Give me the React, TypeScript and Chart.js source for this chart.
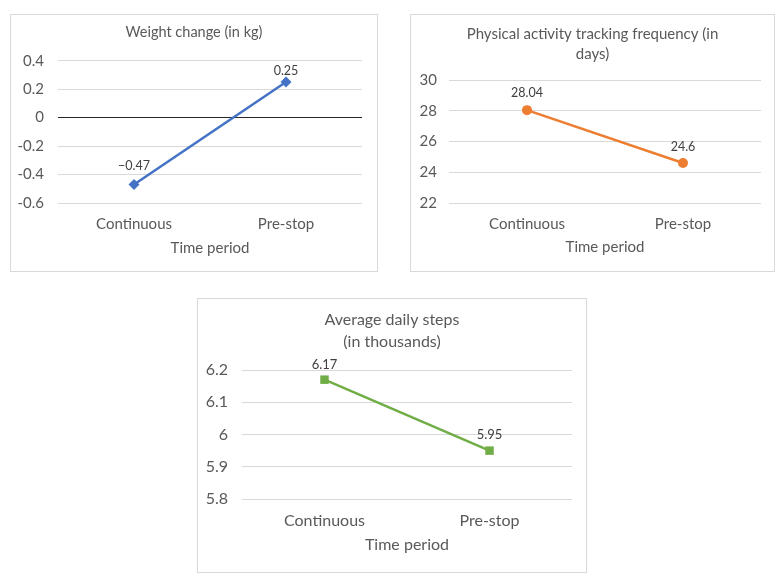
import React, { useEffect, useRef } from "react";
import { Chart, registerables } from "chart.js";

Chart.register(...registerables);

// ---------- data ----------
const categories = ["Continuous", "Pre-stop"];
const xAxisTitle = "Time period";

const weightTitle = ["Weight change (in kg)"];
const weightValues = [-0.47, 0.25];
const weightTicks = [-0.6, -0.4, -0.2, 0, 0.2, 0.4];

const activityTitle = ["Physical activity tracking frequency (in", "days)"];
const activityValues = [28.04, 24.6];
const activityTicks = [22, 24, 26, 28, 30];

const stepsTitle = ["Average daily steps", "(in thousands)"];
const stepsValues = [6.17, 5.95];
const stepsTicks = [5.8, 5.9, 6.0, 6.1, 6.2];

const FONT = "Lato, 'Open Sans', sans-serif";
const TEXT = "#595959";
const GRID = "#d9d9d9";

const pointLabelPlugin = {
  id: "pointLabels",
  afterDatasetsDraw(chart: any, _args: any, opts: any) {
    const { ctx } = chart;
    const meta = chart.getDatasetMeta(0);
    const ds = chart.data.datasets[0];
    ctx.save();
    ctx.font = `${opts.size || 12}px ${FONT}`;
    ctx.fillStyle = "#404040";
    ctx.textAlign = "center";
    ctx.textBaseline = "middle";
    meta.data.forEach((pt: any, i: number) => {
      const v = ds.data[i] as number;
      const text = String(v).replace("-", "\u2212");
      const off = (opts.offsets && opts.offsets[i]) ?? 16;
      ctx.fillText(text, pt.x, pt.y - off);
    });
    ctx.restore();
  },
};

type Spec = {
  left: number;
  top: number;
  width: number;
  height: number;
  title: string[];
  values: number[];
  ticks: number[];
  color: string;
  pointStyle: string;
  pointRadius: number;
  plotLeft: number;
  plotRightPad: number;
  titleSize: number;
  titleLineHeight: number;
  titlePadTop: number;
  titlePadBottom: number;
  xHeight: number;
  tickSize: number;
  yTickPad: number;
  xTickPad: number;
  xTitlePadBottom: number;
  zeroLine?: boolean;
  labelOffsets: number[];
  labelSize: number;
};

function Panel({ spec }: { spec: Spec }) {
  const ref = useRef<HTMLCanvasElement | null>(null);
  useEffect(() => {
    if (!ref.current) return;
    const s = spec;
    const min = s.ticks[0];
    const max = s.ticks[s.ticks.length - 1];
    const step = +(s.ticks[1] - s.ticks[0]).toFixed(6);
    const chart = new Chart(ref.current, {
      type: "line",
      data: {
        labels: categories,
        datasets: [
          {
            data: s.values,
            borderColor: s.color,
            backgroundColor: s.color,
            borderWidth: 2.5,
            pointStyle: s.pointStyle as any,
            pointRadius: s.pointRadius,
            pointBorderWidth: 0,
            tension: 0,
            yAxisID: "y",
          },
        ],
      },
      options: {
        responsive: false,
        animation: false,
        layout: { padding: 0 },
        plugins: {
          legend: { display: false },
          tooltip: { enabled: false },
          title: {
            display: true,
            text: s.title,
            color: TEXT,
            font: { family: FONT, size: s.titleSize, weight: "normal", lineHeight: s.titleLineHeight },
            padding: { top: s.titlePadTop, bottom: s.titlePadBottom },
          },
          pointLabels: { offsets: s.labelOffsets, size: s.labelSize },
        } as any,
        scales: {
          x: {
            offset: true,
            grid: { display: false, drawTicks: false },
            border: { display: false },
            ticks: {
              color: TEXT,
              font: { family: FONT, size: s.tickSize, lineHeight: 1.2 },
              padding: s.xTickPad,
              maxRotation: 0,
            },
            title: {
              display: true,
              text: xAxisTitle,
              color: TEXT,
              font: { family: FONT, size: s.tickSize, lineHeight: 1.2 },
              padding: { top: 0, bottom: s.xTitlePadBottom },
            },
            afterFit: (scale: any) => {
              scale.height = s.xHeight;
            },
          },
          y: {
            min,
            max,
            grid: {
              drawTicks: false,
              color: (ctx: any) =>
                s.zeroLine && ctx.tick && Math.abs(ctx.tick.value) < 1e-9 ? "#262626" : GRID,
              lineWidth: 1,
            },
            border: { display: false },
            ticks: {
              stepSize: step,
              color: TEXT,
              font: { family: FONT, size: s.tickSize },
              padding: s.yTickPad,
              callback: (v: any) => String(+Number(v).toFixed(4)),
            },
            afterFit: (scale: any) => {
              scale.width = s.plotLeft;
            },
          },
          yRightSpace: {
            type: "linear",
            position: "right",
            display: true,
            grid: { display: false, drawTicks: false },
            border: { display: false },
            ticks: { display: false },
            afterFit: (scale: any) => {
              scale.width = s.plotRightPad;
            },
          },
        },
      },
      plugins: [pointLabelPlugin],
    } as any);
    return () => chart.destroy();
  }, [spec]);

  return (
    <div
      style={{
        position: "absolute",
        left: spec.left,
        top: spec.top,
        width: spec.width,
        height: spec.height,
        border: `1px solid ${GRID}`,
        boxSizing: "border-box",
        background: "#fff",
      }}
    >
      <canvas
        ref={ref}
        width={spec.width}
        height={spec.height}
        style={{ position: "absolute", left: -1, top: -1, width: spec.width, height: spec.height }}
      />
    </div>
  );
}

const specs: Spec[] = [
  {
    left: 10, top: 14, width: 368, height: 258,
    title: weightTitle, values: weightValues, ticks: weightTicks,
    color: "#4472C4", pointStyle: "rectRot", pointRadius: 5.5,
    plotLeft: 48, plotRightPad: 16,
    titleSize: 14.5, titleLineHeight: 1.5, titlePadTop: 7.5, titlePadBottom: 17.5,
    xHeight: 69, tickSize: 15, yTickPad: 14, xTickPad: 12, xTitlePadBottom: 15,
    zeroLine: true, labelOffsets: [19, 11], labelSize: 12.5,
  },
  {
    left: 410, top: 14, width: 365, height: 258,
    title: activityTitle, values: activityValues, ticks: activityTicks,
    color: "#ED7D31", pointStyle: "circle", pointRadius: 5,
    plotLeft: 39, plotRightPad: 14,
    titleSize: 15, titleLineHeight: 20 / 15, titlePadTop: 10, titlePadBottom: 16,
    xHeight: 69, tickSize: 15, yTickPad: 12, xTickPad: 12, xTitlePadBottom: 16,
    labelOffsets: [17, 16], labelSize: 12.5,
  },
  {
    left: 197, top: 298, width: 390, height: 275,
    title: stepsTitle, values: stepsValues, ticks: stepsTicks,
    color: "#70AD47", pointStyle: "rect", pointRadius: 6,
    plotLeft: 45, plotRightPad: 15,
    titleSize: 16, titleLineHeight: 22 / 16, titlePadTop: 11, titlePadBottom: 17,
    xHeight: 74, tickSize: 16, yTickPad: 14, xTickPad: 12.4, xTitlePadBottom: 18.4,
    labelOffsets: [15, 16], labelSize: 13,
  },
];

export default function App() {
  return (
    <div
      style={{
        position: "absolute",
        left: 0,
        top: 0,
        width: 782,
        height: 582,
        background: "#fff",
        overflow: "hidden",
      }}
    >
      {specs.map((s, i) => (
        <Panel key={i} spec={s} />
      ))}
    </div>
  );
}
